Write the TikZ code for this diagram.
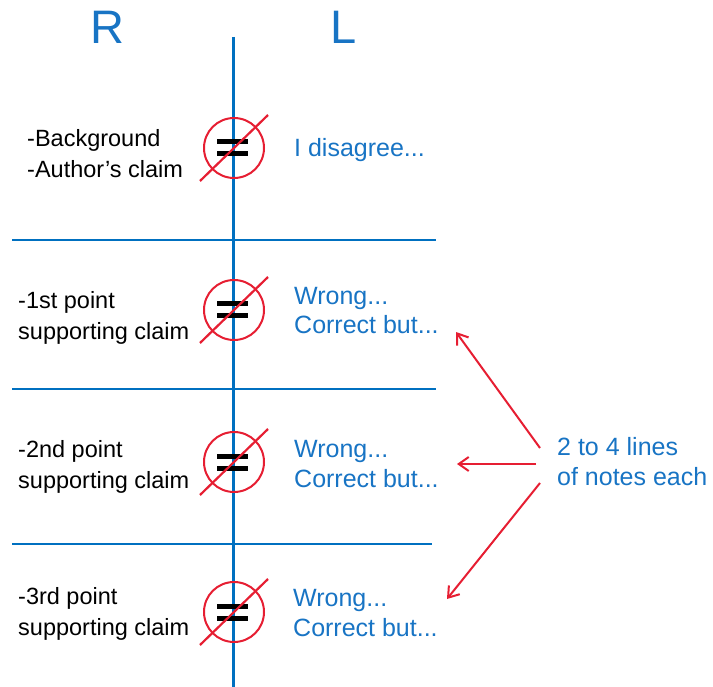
\documentclass[tikz,border=0pt]{standalone}
\usepackage{fontspec}
\setmainfont{Liberation Sans}
\usetikzlibrary{arrows.meta}
\definecolor{lineblue}{RGB}{0,112,192}
\definecolor{textblue}{RGB}{24,116,196}
\definecolor{markred}{RGB}{230,30,50}
\tikzset{
  hline/.style={draw=lineblue, line width=2pt},
  vline/.style={draw=lineblue, line width=3pt},
  ring/.style={circle, draw=markred, line width=2pt, minimum size=60pt, inner sep=0pt},
  eqbar/.style={draw=black, line width=5pt},
  slash/.style={draw=markred, line width=2.2pt},
  leftnote/.style={anchor=west, align=left, inner sep=0pt, text=black, font=\fontsize{23.5}{31}\selectfont},
  rightnote/.style={anchor=west, align=left, inner sep=0pt, text=textblue, font=\fontsize{25}{29.5}\selectfont},
  head/.style={inner sep=0pt, text=textblue, font=\fontsize{47}{50}\selectfont},
  pointer/.style={draw=markred, line width=2pt, -{Straight Barb[length=10pt,width=14pt]}}
}
\begin{document}
\begin{tikzpicture}[x=1pt,y=-1pt]
\useasboundingbox (0,0) rectangle (713,687);
% headers
\node[head, anchor=base] (R) at (107.5,44) {R};
\node[head, anchor=base] (L) at (343.5,44) {L};
% central line
\coordinate (vtop) at (233,37);
\coordinate (vbot) at (233,687);
\draw[vline] (vtop) -- (vbot);
% horizontal separators
\coordinate (h1a) at (12,240); \coordinate (h1b) at (436,240);
\coordinate (h2a) at (12,389); \coordinate (h2b) at (436,389);
\coordinate (h3a) at (12,544); \coordinate (h3b) at (432,544);
\draw[hline] (h1a) -- (h1b);
\draw[hline] (h2a) -- (h2b);
\draw[hline] (h3a) -- (h3b);
% not-equal marks
\foreach \n/\y in {a/148, b/310, c/462, d/612}{
  \node[ring] (c\n) at (234,\y) {};
  \draw[eqbar] ([xshift=-17pt,yshift=6pt]c\n.center) -- ([xshift=14pt,yshift=6pt]c\n.center);
  \draw[eqbar] ([xshift=-17pt,yshift=-6pt]c\n.center) -- ([xshift=14pt,yshift=-6pt]c\n.center);
  \draw[slash] ([xshift=-34pt,yshift=-33pt]c\n.center) -- ([xshift=34pt,yshift=33pt]c\n.center);
}
% left notes
\node[leftnote] (l1) at (27,154) {-Background\\-Author's claim};
\node[leftnote] (l2) at (18,318) {-1st point\\supporting claim};
\node[leftnote] (l3) at (18,467) {-2nd point\\supporting claim};
\node[leftnote] (l4) at (18,614) {-3rd point\\supporting claim};
% right notes
\node[rightnote] (r1) at (294,150) {I disagree...};
\node[rightnote] (r2) at (294,310.5) {Wrong...\\Correct but...};
\node[rightnote] (r3) at (294,464) {Wrong...\\Correct but...};
\node[rightnote] (r4) at (293,613) {Wrong...\\Correct but...};
% annotation
\node[rightnote] (note) at (557,461.5) {2 to 4 lines\\of notes each};
\coordinate (t1) at (540,448); \coordinate (e1) at (456,332);
\coordinate (t2) at (536,464); \coordinate (e2) at (457,464);
\coordinate (t3) at (540,483); \coordinate (e3) at (447,599);
\draw[pointer] (t1) -- (e1);
\draw[pointer] (t2) -- (e2);
\draw[pointer] (t3) -- (e3);
\end{tikzpicture}
\end{document}
